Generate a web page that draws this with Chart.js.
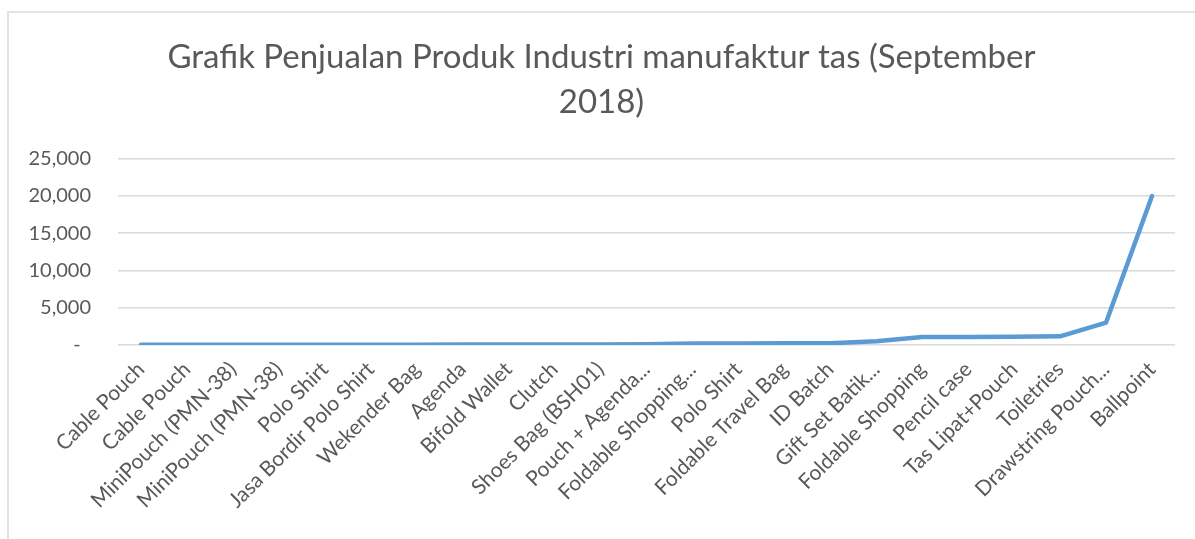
<!DOCTYPE html>
<html>
<head>
<meta charset="utf-8">
<script src="https://cdn.jsdelivr.net/npm/chart.js@4/dist/chart.umd.min.js"></script>
<style>
  html, body { margin: 0; padding: 0; background: #fff; }
  #wrap { position: relative; width: 1195px; height: 539px; overflow: hidden; }
  #frame { position: absolute; left: 7px; top: 11px; width: 1200px; height: 540px;
           border-top: 2px solid #e3e3e3; border-left: 2px solid #e3e3e3; box-sizing: border-box; }
  canvas { position: absolute; left: 0; top: 0; }
</style>
</head>
<body>
<div id="wrap">
  <div id="frame"></div>
  <canvas id="c" width="1195" height="539"></canvas>
</div>
<script>
const titleLines = ["Grafik Penjualan Produk Industri manufaktur tas (September", "2018)"];
const categories = [
  "Cable Pouch", "Cable Pouch", "MiniPouch (PMN-38)", "MiniPouch (PMN-38)", "Polo Shirt",
  "Jasa Bordir Polo Shirt", "Wekender Bag", "Agenda", "Bifold Wallet", "Clutch",
  "Shoes Bag (BSH01)", "Pouch + Agenda...", "Foldable Shopping...", "Polo Shirt",
  "Foldable Travel Bag", "ID Batch", "Gift Set Batik...", "Foldable Shopping",
  "Pencil case", "Tas Lipat+Pouch", "Toiletries", "Drawstring Pouch...", "Ballpoint"
];
const sales = [10, 10, 15, 20, 25, 30, 40, 45, 50, 60, 70, 90, 180, 200, 210, 230, 500, 1050, 1050, 1100, 1150, 3000, 20000];
const yTicks = [0, 5000, 10000, 15000, 20000, 25000];

const FONT = "Lato, 'Open Sans', sans-serif";
const GREY = "#595959";

new Chart(document.getElementById('c'), {
  type: 'line',
  data: {
    labels: categories,
    datasets: [{
      data: sales,
      borderColor: '#5B9BD5',
      backgroundColor: '#5B9BD5',
      borderWidth: 4.5,
      pointRadius: 0,
      tension: 0,
      borderJoinStyle: 'round',
      borderCapStyle: 'round'
    }]
  },
  options: {
    responsive: false,
    animation: false,
    layout: { padding: { left: 28, right: 20, top: 30, bottom: 22 } },
    plugins: {
      legend: { display: false },
      tooltip: { enabled: false },
      title: {
        display: true,
        text: titleLines,
        color: GREY,
        font: { family: FONT, size: 33, weight: 'normal', lineHeight: 1.36 },
        padding: { top: 5, bottom: 34 }
      }
    },
    scales: {
      x: {
        offset: true,
        grid: { display: false },
        border: { display: false },
        ticks: {
          autoSkip: false,
          minRotation: 45,
          maxRotation: 45,
          color: GREY,
          padding: 4,
          font: { family: FONT, size: 21 }
        }
      },
      y: {
        min: yTicks[0],
        max: yTicks[yTicks.length - 1],
        afterBuildTicks: (axis) => { axis.ticks = yTicks.map(v => ({ value: v })); },
        afterFit: (s) => { s.width = 90; },
        grid: { color: '#d9d9d9', lineWidth: 1.5, drawTicks: false },
        border: { display: false },
        ticks: {
          color: GREY,
          padding: 27,
          font: { family: FONT, size: 20 },
          callback: (v) => v === 0 ? '-  ' : Number(v).toLocaleString('en-US')
        }
      }
    }
  }
});
</script>
</body>
</html>
